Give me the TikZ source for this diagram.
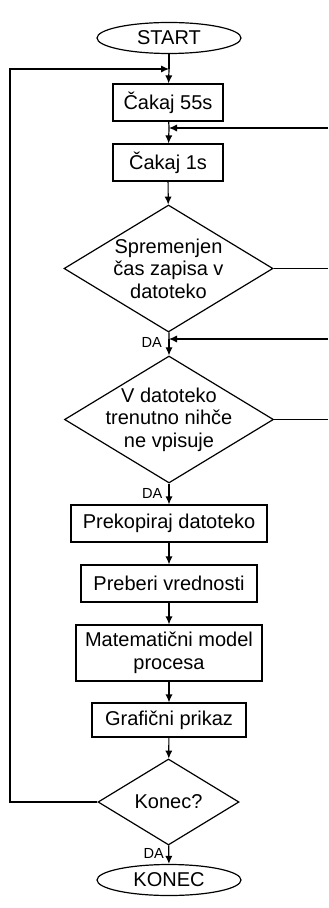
\documentclass[tikz,border=0pt]{standalone}
\usepackage{fontspec}
\setmainfont{Liberation Sans}
\usetikzlibrary{shapes.geometric,arrows.meta}

\tikzset{
  box/.style={draw, rectangle, inner sep=0pt},
  decision/.style={draw, diamond, inner sep=0pt},
  terminal/.style={draw, ellipse, inner sep=0pt, minimum width=72pt, minimum height=15.5pt},
  da/.style={font=\fontsize{7.3}{8}\selectfont, inner sep=0pt}
}

\begin{document}
\begin{tikzpicture}[x=0.5pt, y=-0.5pt, line width=0.6pt,
  >={Latex[length=4pt,width=3.6pt]},
  font=\fontsize{10}{11.3}\selectfont]
\useasboundingbox (0,0) rectangle (328,908);
\coordinate (edge) at (328,0);
\coordinate (lx) at (10,0);

\node [terminal] (start) at (169,38) {START};
\coordinate (j1) at (169,69);
\node [box, minimum width=55pt, minimum height=18.5pt] (wait55) at (168,102.5) {Čakaj 55s};
\coordinate (j2) at (169,128);
\node [box, minimum width=55pt, minimum height=18.5pt] (wait1) at (168,162.5) {Čakaj 1s};
\node [decision, minimum width=104.5pt, minimum height=63.5pt,
  label={[align=center]center:Spremenjen\\čas zapisa v\\datoteko}] (d1) at (168.5,268.5) {};
\coordinate (j3) at (169,339);
\node [decision, minimum width=104.5pt, minimum height=63.5pt,
  label={[align=center]center:V datoteko\\trenutno nihče\\ne vpisuje}] (d2) at (169,419.5) {};
\node [box, minimum width=98pt, minimum height=18.5pt] (copy) at (169,523.5) {Prekopiraj datoteko};
\node [box, minimum width=88pt, minimum height=18.5pt] (read) at (169,583.5) {Preberi vrednosti};
\node [box, minimum width=93pt, minimum height=28pt, align=center] (model) at (169,653) {Matematični model\\procesa};
\node [box, minimum width=77pt, minimum height=17pt] (plot) at (169,720) {Grafični prikaz};
\node [decision, minimum width=70.5pt, minimum height=43pt,
  label={center:Konec?}] (d3) at (168.5,802) {};
\node [terminal] (konec) at (169,880) {KONEC};

\node [da, anchor=north east] at ([xshift=-3pt,yshift=-2pt]d1.south) {DA};
\node [da, anchor=north east] at ([xshift=-3pt,yshift=-2pt]d2.south) {DA};
\node [da, anchor=north east] at ([xshift=-2pt,yshift=-1pt]d3.south) {DA};

\draw (start) -- (j1);
\draw [->] (j1) -- (wait55);
\draw (wait55) -- (j2);
\draw [->] (j2) -- (wait1);
\draw [->] (wait1) -- (d1);
\draw (d1) -- (j3);
\draw [->] (j3) -- (d2);
\draw [->] (d2) -- (copy);
\draw [->] (copy) -- (read);
\draw [->] (read) -- (model);
\draw [->] (model) -- (plot);
\draw [->] (plot) -- (d3);
\draw [->] (d3) -- (konec);

\draw [->] (j2 -| edge) -- (j2);
\draw (d1.east) -- (d1.east -| edge);
\draw [->] (j3 -| edge) -- (j3);
\draw (d2.east) -- (d2.east -| edge);
\draw [->] (d3.west) -- (d3.west -| lx) |- (j1);
\end{tikzpicture}
\end{document}
